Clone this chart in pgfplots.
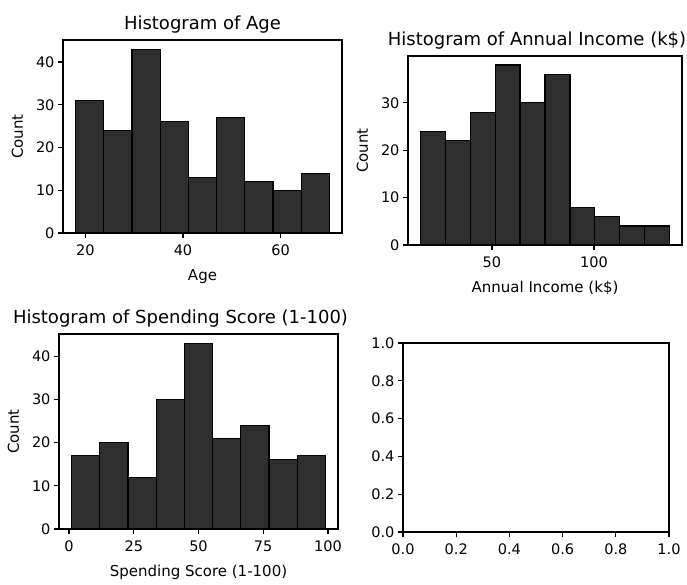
\documentclass[border=0pt]{standalone}
\usepackage{fontspec}
\setmainfont{DejaVu Sans}
\usepackage{pgfplots}
\pgfplotsset{compat=1.18}

\definecolor{barfill}{HTML}{2E2E2E}

\pgfplotsset{
  panel/.style={
    scale only axis,
    anchor=north west,
    axis line style={line width=1.2pt},
    tick align=outside,
    xtick pos=bottom,
    ytick pos=left,
    major tick length=5pt,
    every tick/.style={black, line width=1.2pt},
    tick label style={font=\fontsize{14.5}{16}\selectfont},
    xticklabel style={yshift=-3pt},
    label style={font=\fontsize{15}{17}\selectfont},
    title style={font=\fontsize{18}{20}\selectfont, yshift=-3pt},
    /pgf/number format/assume math mode=true,
    xlabel style={yshift=-7pt},
    ylabel style={yshift=6pt},
  },
  hist/.style={ybar interval, fill=barfill, draw=black, line width=1.2pt},
}

\begin{document}
\begin{tikzpicture}
\path[use as bounding box] (0pt,0pt) rectangle (687pt,-585pt);

% Age
\begin{axis}[panel, at={(63pt,-40pt)}, width=279pt, height=193pt,
  title={Histogram of Age}, xlabel={Age}, ylabel={Count},
  xmin=15.4, xmax=72.6, ymin=0, ymax=45.15,
  xtick={20,40,60}, ytick={0,10,20,30,40}]
\addplot[hist] coordinates {
  (18,31) (23.778,24) (29.556,43) (35.333,26) (41.111,13)
  (46.889,27) (52.667,12) (58.444,10) (64.222,14) (70,14)};
\end{axis}

% Annual income
\begin{axis}[panel, at={(408pt,-56pt)}, width=274pt, height=189pt,
  title={Histogram of Annual Income (k\$)}, xlabel={Annual Income (k\$)}, ylabel={Count},
  title style={xshift=-8pt},
  xmin=8.9, xmax=143.1, ymin=0, ymax=39.9,
  xtick={50,100}, ytick={0,10,20,30}]
\addplot[hist] coordinates {
  (15,24) (27.2,22) (39.4,28) (51.6,38) (63.8,30)
  (76,36) (88.2,8) (100.4,6) (112.6,4) (124.8,4) (137,4)};
\end{axis}

% Spending score
\begin{axis}[panel, at={(59pt,-334pt)}, width=279pt, height=195pt,
  title={Histogram of Spending Score (1-100)}, xlabel={Spending Score (1-100)}, ylabel={Count},
  title style={xshift=-18pt},
  xmin=-3.9, xmax=103.9, ymin=0, ymax=45.15,
  xtick={0,25,50,75,100}, ytick={0,10,20,30,40}]
\addplot[hist] coordinates {
  (1,17) (11.889,20) (22.778,12) (33.667,30) (44.556,43)
  (55.444,21) (66.333,24) (77.222,16) (88.111,17) (99,17)};
\end{axis}

% Empty panel
\begin{axis}[panel, at={(403pt,-343pt)}, width=266pt, height=189pt,
  xmin=0, xmax=1, ymin=0, ymax=1,
  xtick={0,0.2,0.4,0.6,0.8,1}, ytick={0,0.2,0.4,0.6,0.8,1},
  xticklabel style={/pgf/number format/.cd, fixed, fixed zerofill, precision=1},
  yticklabel style={/pgf/number format/.cd, fixed, fixed zerofill, precision=1}]
\end{axis}
\end{tikzpicture}
\end{document}
